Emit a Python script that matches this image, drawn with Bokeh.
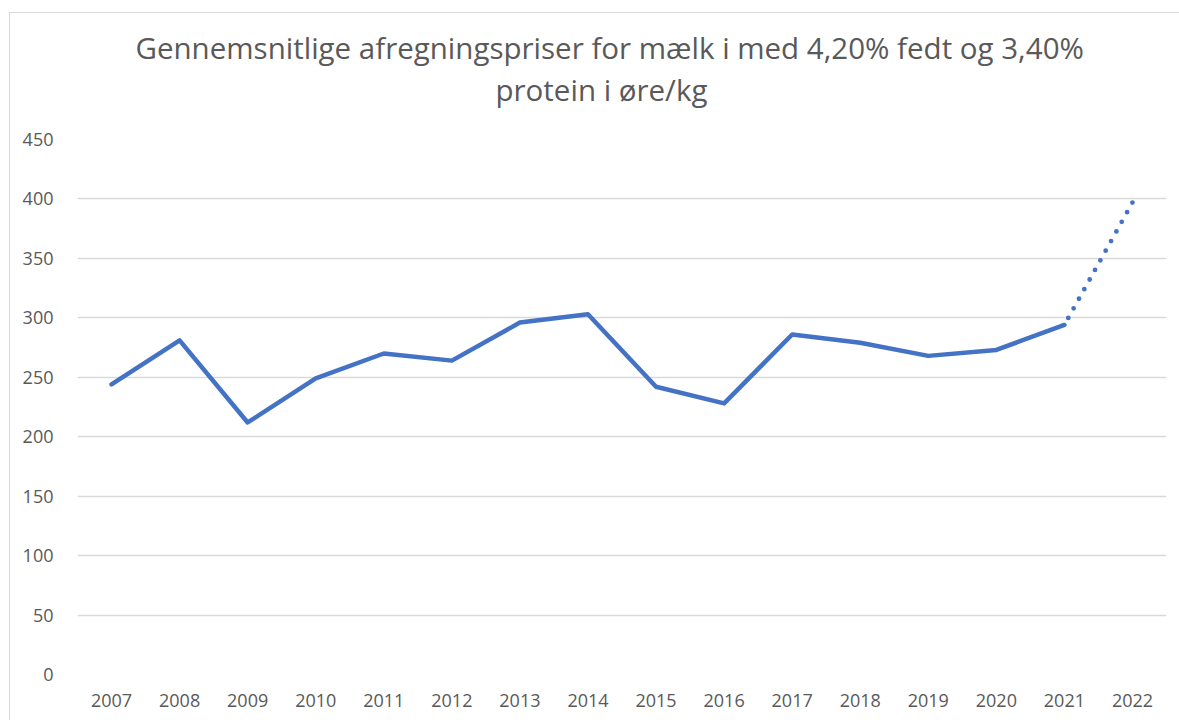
from bokeh.plotting import figure
from bokeh.models import Range1d, FactorRange, Title, SingleIntervalTicker
from bokeh.embed import file_html
from bokeh.resources import INLINE

years = [str(y) for y in range(2007, 2023)]
prices = [244, 281, 212, 249, 270, 264, 296, 303, 242, 228, 286, 279, 268, 273, 294, 397]
title_line1 = "Gennemsnitlige afregningspriser for mælk i med 4,20% fedt og 3,40%"
title_line2 = "protein i øre/kg"

solid_x = years[:-1]
solid_y = prices[:-1]
dot_x = years[-2:]
dot_y = prices[-2:]

p = figure(
    x_range=FactorRange(*years, range_padding=0),
    y_range=Range1d(0, 450),
    width=1170, height=708,
    output_backend="svg", toolbar_location=None,
    min_border_left=67, min_border_right=14, min_border_top=126, min_border_bottom=47,
)
p.margin = (12, 0, 0, 9)
p.styles = {"border-top": "1px solid #d9d9d9", "border-left": "1px solid #d9d9d9"}

p.add_layout(Title(text=title_line2, align="left", offset=418, text_font="Open Sans",
                   text_font_size="29.5px", text_font_style="normal",
                   text_color="#595959", standoff=60), "above")
p.add_layout(Title(text=title_line1, align="left", offset=58, text_font="Open Sans",
                   text_font_size="29.5px", text_font_style="normal",
                   text_color="#595959", standoff=-62), "above")

p.line(solid_x, solid_y, line_color="#4472C4", line_width=4.5, line_join="round", line_cap="round")
p.line(dot_x, dot_y, line_color="#4472C4", line_width=4.8, line_dash="0 11",
       line_dash_offset=3, line_cap="round")

p.outline_line_color = None
p.background_fill_color = "white"
p.border_fill_color = "white"

p.yaxis.ticker = SingleIntervalTicker(interval=50)
p.ygrid.grid_line_color = "#d9d9d9"
p.ygrid.grid_line_width = 1.3
p.xgrid.grid_line_color = None

for ax in (p.xaxis, p.yaxis):
    ax.axis_line_color = None
    ax.major_tick_line_color = None
    ax.minor_tick_line_color = None
    ax.major_tick_out = 0
    ax.major_tick_in = 0
    ax.major_label_text_font = "Open Sans"
    ax.major_label_text_font_size = "18px"
    ax.major_label_text_color = "#595959"

p.yaxis.major_label_standoff = 20
p.xaxis.major_label_standoff = 19

open("out.html", "w").write(file_html(p, INLINE))
